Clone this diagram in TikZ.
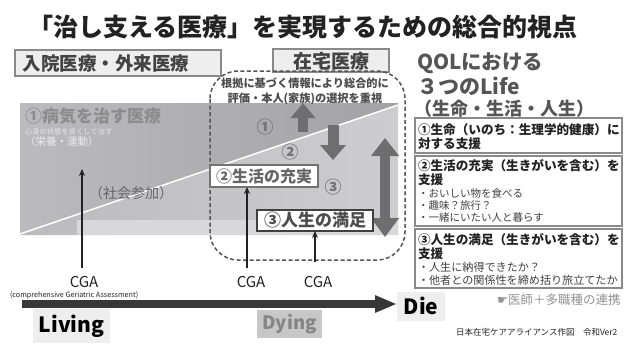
\documentclass[tikz,border=0pt]{standalone}
\usepackage{fontspec}
\setmainfont{Noto Sans CJK JP}
\newfontfamily\dejavu{DejaVu Sans}
\usetikzlibrary{arrows.meta}
\newcommand\fsz[1]{\fontsize{#1}{#1}\selectfont}
\definecolor{ink}{HTML}{222222}
\definecolor{gA}{HTML}{BBBBBD}
\definecolor{gB}{HTML}{A2A2A4}
\definecolor{gC}{HTML}{BBBBBD}
\definecolor{gD}{HTML}{CDCDCF}
\definecolor{floorc}{HTML}{D8D8DA}
\definecolor{boxfill}{HTML}{EEEEEE}
\definecolor{boxline}{HTML}{8A8A8A}
\definecolor{arrowc}{HTML}{6E6E6E}
\definecolor{dashc}{HTML}{555555}
\definecolor{qolc}{HTML}{555555}
\tikzset{
  labelbox/.style={draw=boxline, fill=boxfill, line width=1.2pt},
  panelbox/.style={draw=boxline, line width=1.5pt},
  blockarrow/.style={line width=#1, draw=arrowc},
  cga/.style={draw=ink, line width=1.4pt, -{Stealth[length=7pt,width=6pt]}},
  cgatext/.style={font=\fsz{15}, text=ink},
  wtext/.style={anchor=west},
}
\begin{document}
\begin{tikzpicture}[x=1pt,y=-1pt, every node/.style={inner sep=0pt, outer sep=0pt}]
\useasboundingbox[fill=white] (0,0) rectangle (624,349);

% title
\node[font=\bfseries\fsz{25}, text=ink] (title) at (303,27) {「治し支える医療」を実現するための総合的視点};

% header boxes
\draw[labelbox] (15,50) rectangle (221,76);
\node[wtext, font=\bfseries\fsz{18.5}, text=ink!85] (hosp) at (23,63) {入院医療・外来医療};
\draw[labelbox] (273,49) rectangle (389,72);
\node[font=\bfseries\fsz{19}, text=ink!85] (home) at (331,61) {在宅医療};

% gray region
\shade[left color=gA, right color=gB] (20,103) -- (398,103) -- (398,105) -- (20,234) -- cycle;
\shade[left color=gC, right color=gD] (20,234) -- (398,105) -- (398,235) -- (20,235) -- cycle;
\fill[floorc] (77,220) -- (398,220) -- (398,235) -- (77,235) -- cycle;
\draw[white, line width=1.5pt] (20,234) -- (398,105);

% texts in gray region
\node[wtext, font=\bfseries\fsz{17}, text=black!45] (cure) at (25,116) {①病気を治す医療};
\node[wtext, font=\fsz{7.3}, text=white!90!black] (cure2) at (25,132) {心身の状態を良くして治す};
\node[wtext, font=\fsz{10.5}, text=white!92!black] (cure3) at (25,142) {（栄養・運動）};
\node[wtext, font=\fsz{14}, text=black!60] (social) at (89,193) {（社会参加）};

% dashed home-care frame
\draw[dashc, line width=1.5pt, dash pattern=on 4pt off 2.5pt, rounded corners=28pt] (210,71) rectangle (405,260);
\node[font=\bfseries\fsz{11.2}, text=black!70] (ev1) at (305,83) {根拠に基づく情報により総合的に};
\node[font=\bfseries\fsz{11.2}, text=black!70] (ev2) at (305,99) {評価・本人(家族)の選択を重視};

% circled numbers
\node[font=\bfseries\fsz{17}, text=black!55] (n1) at (265,127) {①};
\node[font=\bfseries\fsz{17}, text=black!55] (n2) at (290,152) {②};
\node[font=\bfseries\fsz{17}, text=black!55] (n3) at (333,187) {③};

% block arrows
\coordinate (ua) at (303,132); \coordinate (ub) at (303,103);
\draw[blockarrow=10pt, -{Triangle[length=15pt,width=24pt]}] (ua) -- (ub);
\coordinate (da) at (333,125); \coordinate (db) at (333,160);
\draw[blockarrow=11pt, -{Triangle[length=15pt,width=25pt]}] (da) -- (db);
\coordinate (va) at (385,138); \coordinate (vb) at (385,237);
\draw[blockarrow=10pt, {Triangle[length=18pt,width=27pt]}-{Triangle[length=19pt,width=27pt]}] (va) -- (vb);

% inner boxes
\node[draw=black!55, fill=white, line width=1.2pt, minimum width=108pt, minimum height=22pt, font=\bfseries\fsz{16}, text=black!60] (live) at (264,176) {②生活の充実};
\node[draw=black!75, fill=white, line width=1.8pt, minimum width=116pt, minimum height=21pt, font=\bfseries\fsz{17}, text=black!70] (full) at (315,220.5) {③人生の満足};

% CGA arrows
\node[cgatext] (cga1) at (84,282) {CGA};
\node[cgatext] (cga2) at (251,282) {CGA};
\node[cgatext] (cga3) at (318,282) {CGA};
\node[wtext, font=\fsz{7.2}, text=ink] (cgafull) at (10,295) {(comprehensive Geriatric Assessment)};
\coordinate (c1b) at (82,268); \coordinate (c1t) at (82,169);
\draw[cga] (c1b) -- (c1t);
\coordinate (c2b) at (247,268);
\draw[cga] (c2b) -- (c2b |- live.south);
\coordinate (c3b) at (315,262);
\draw[cga] (c3b) -- (c3b |- full.south);

% timeline
\node[fill=boxfill, minimum width=48pt, minimum height=29pt, font=\bfseries\fsz{21}, text=black] (die) at (421,306) {Die};
\coordinate (tstart) at (22,304);
\draw[draw=black!78, line width=8pt, -{Triangle[length=22pt,width=16pt]}] (tstart) -- (tstart -| die.west);
\node[fill=boxfill, minimum width=77pt, minimum height=34pt, font=\bfseries\fsz{21}, text=black] (living) at (71.5,326) {Living};
\node[fill=black!22, minimum width=65pt, minimum height=28pt, font=\bfseries\fsz{18.5}, text=black!48] (dying) at (289.5,324) {Dying};

% QOL heading
\node[wtext, font=\bfseries\fsz{20.5}, text=qolc] (qol1) at (417,63) {QOLにおける};
\node[wtext, font=\bfseries\fsz{21}, text=qolc] (qol2) at (417,86) {３つのLife};
\node[wtext, font=\bfseries\fsz{18}, text=qolc] (qol3) at (414,109) {（生命・生活・人生）};

% right panel boxes
\draw[panelbox] (415,118) rectangle (622,153);
\node[wtext, font=\bfseries\fsz{12.6}, text=ink] (p1a) at (418,129.5) {①生命（いのち：生理学的健康）に};
\node[wtext, font=\bfseries\fsz{12.6}, text=ink] (p1b) at (418,143.5) {対する支援};

\draw[panelbox] (415,156) rectangle (622,226);
\node[wtext, font=\bfseries\fsz{12.6}, text=ink] (p2a) at (418,166) {②生活の充実（生きがいを含む）を};
\node[wtext, font=\bfseries\fsz{12.6}, text=ink] (p2b) at (418,180) {支援};
\node[wtext, font=\fsz{10.5}, text=black!75] (p2c) at (418,193) {・おいしい物を食べる};
\node[wtext, font=\fsz{10.5}, text=black!75] (p2d) at (418,206) {・趣味？旅行？};
\node[wtext, font=\fsz{10.5}, text=black!75] (p2e) at (418,218) {・一緒にいたい人と暮らす};

\draw[panelbox] (415,229) rectangle (622,288);
\node[wtext, font=\bfseries\fsz{12.6}, text=ink] (p3a) at (418,240) {③人生の満足（生きがいを含む）を};
\node[wtext, font=\bfseries\fsz{12.6}, text=ink] (p3b) at (418,253.5) {支援};
\node[wtext, font=\fsz{11.1}, text=black!75] (p3c) at (418,267) {・人生に納得できたか？};
\node[wtext, font=\fsz{11.1}, text=black!75] (p3d) at (418,280) {・他者との関係性を締め括り旅立てたか};

% footer texts
\node[wtext, font=\fsz{12.5}, text=black!42] (team) at (497,300) {{\dejavu ☛}医師＋多職種の連携};
\node[wtext, font=\fsz{8.5}, text=ink] (credit) at (456,332) {日本在宅ケアアライアンス作図　令和Ver2};
\end{tikzpicture}
\end{document}
